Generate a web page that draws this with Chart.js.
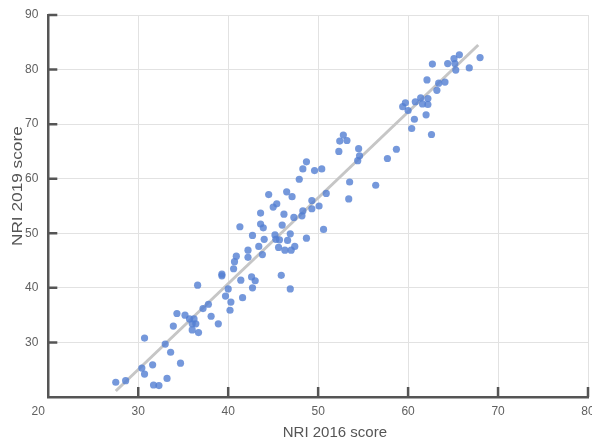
<!DOCTYPE html>
<html>
<head>
<meta charset="utf-8">
<script src="https://cdn.jsdelivr.net/npm/chart.js@4/dist/chart.umd.min.js"></script>
<style>
  html, body { margin: 0; padding: 0; background: #fff; }
  #wrap { width: 592px; height: 441px; position: relative; }
</style>
</head>
<body>
<div id="wrap"><canvas id="c" width="592" height="441"></canvas></div>
<script>
// Country scores: Network Readiness Index 2016 vs 2019
const nri2016 = [
  27.5, 28.6, 30.4, 30.7, 30.7, 31.7, 32.3, 31.6, 33.2, 33.0,
  33.6, 34.7, 33.9, 34.3, 35.2, 35.7, 36.2, 36.0, 36.4, 36.0,
  36.7, 37.2, 37.8, 36.6, 38.1, 38.9, 39.3, 39.3, 40.0, 39.7,
  40.3, 40.2, 41.4, 41.6, 40.6, 40.7, 40.9, 41.3, 42.2, 42.2,
  42.6, 43.0, 42.7, 42.7, 43.4, 43.8, 44.0, 43.6, 43.9, 43.6,
  44.5, 45.0, 45.4, 46.2, 46.0, 46.5, 47.1, 47.3, 48.3, 48.2,
  49.3, 49.3, 50.1, 50.9, 50.6, 48.7, 47.9, 48.3, 48.7, 49.6,
  50.4, 52.3, 45.2, 45.3, 45.7, 45.6, 46.3, 46.6, 46.9, 47.0,
  47.4, 45.9, 46.9, 52.4, 52.8, 53.2, 54.5, 54.6, 54.4, 53.5,
  53.4, 56.4, 57.7, 58.7, 60.4, 60.7, 60.0, 59.4, 59.7, 60.8,
  61.4, 61.6, 62.2, 62.2, 62.0, 62.6, 62.1, 62.7, 63.2, 63.4,
  64.1, 64.4, 65.1, 65.7, 65.2, 65.3, 66.8, 68.0
];
const nri2019 = [
  22.7, 23.0, 25.3, 24.2, 30.8, 22.2, 22.1, 25.9, 23.4, 29.7,
  28.2, 26.2, 33.0, 35.3, 35.0, 34.3, 34.3, 33.4, 33.4, 32.3,
  31.8, 36.2, 37.0, 40.5, 34.8, 33.4, 42.5, 42.2, 39.8, 38.5,
  37.4, 35.9, 41.4, 38.2, 43.5, 44.8, 45.8, 51.2, 46.9, 45.6,
  42.0, 41.3, 40.0, 49.6, 47.6, 46.1, 48.9, 51.7, 51.0, 53.7,
  57.1, 54.8, 55.4, 53.5, 51.5, 57.6, 56.7, 52.9, 54.1, 53.2,
  56.0, 54.5, 55.0, 57.3, 50.7, 49.1, 59.9, 61.8, 63.1, 61.5,
  61.8, 65.0, 49.7, 48.9, 48.8, 47.4, 46.9, 48.7, 49.9, 46.9,
  47.6, 42.3, 39.8, 66.9, 68.0, 67.0, 65.5, 64.2, 63.3, 59.4,
  56.3, 58.8, 63.7, 65.4, 69.2, 70.9, 72.5, 73.2, 73.9, 74.1,
  74.8, 73.7, 74.7, 73.6, 71.7, 68.1, 78.1, 81.0, 76.2, 77.5,
  77.7, 81.1, 82.0, 82.7, 81.1, 79.9, 80.3, 82.2
];

// Fitted trend line end points
const trendX = [27.5, 67.8];
const trendY = [21.1, 84.5];

// Axis ticks
const xTicks = [20, 30, 40, 50, 60, 70, 80];
const yTicks = [20, 30, 40, 50, 60, 70, 80, 90];

const xTitle = 'NRI 2016 score';
const yTitle = 'NRI 2019 score';

const tickFont = { family: '"Liberation Sans Narrow", "Liberation Sans", Arial, sans-serif', size: 12 };
const axisDark = '#555555';

// Short tick marks pointing into the plot, plus the two axis titles
const axisDecor = {
  id: 'axisDecor',
  afterDraw(chart) {
    const { ctx, chartArea: a, scales: { x, y } } = chart;
    ctx.save();
    ctx.strokeStyle = axisDark;
    ctx.lineWidth = 2.5;
    ctx.beginPath();
    yTicks.forEach(v => {
      if (v === y.min) return;
      const py = y.getPixelForValue(v);
      ctx.moveTo(a.left, py);
      ctx.lineTo(a.left + 9, py);
    });
    xTicks.forEach(v => {
      if (v === x.min) return;
      const px = x.getPixelForValue(v);
      ctx.moveTo(px, a.bottom);
      ctx.lineTo(px, a.bottom - 10);
    });
    ctx.stroke();

    ctx.fillStyle = '#555';
    ctx.textAlign = 'center';
    ctx.textBaseline = 'middle';
    ctx.font = '15px "Liberation Sans", Arial, sans-serif';
    ctx.fillText(xTitle, a.left + (a.right - a.left) * 0.531, 433);

    ctx.translate(18, a.top + (a.bottom - a.top) * 0.448);
    ctx.rotate(-Math.PI / 2);
    ctx.scale(1.15, 1);
    ctx.fillText(yTitle, 0, 0);
    ctx.restore();
  }
};

const points = nri2016.map((v, i) => ({ x: v, y: nri2019[i] }));
const trend = trendX.map((v, i) => ({ x: v, y: trendY[i] }));

new Chart(document.getElementById('c'), {
  type: 'scatter',
  data: {
    datasets: [
      {
        type: 'scatter',
        data: points,
        backgroundColor: 'rgba(82, 126, 210, 0.8)',
        borderWidth: 0,
        pointRadius: 3.6,
        order: 1
      },
      {
        type: 'line',
        data: trend,
        borderColor: '#c6c6c6',
        borderWidth: 3,
        pointRadius: 0,
        fill: false,
        order: 2
      }
    ]
  },
  options: {
    responsive: false,
    animation: false,
    events: [],
    layout: { padding: { top: 15, right: 3, left: 0, bottom: 0 } },
    plugins: { legend: { display: false }, tooltip: { enabled: false }, title: { display: false } },
    scales: {
      x: {
        type: 'linear',
        min: 20, max: 80,
        afterBuildTicks: s => { s.ticks = xTicks.map(v => ({ value: v })); },
        afterFit: s => { s.height = 44; s.paddingLeft = 0; s.paddingRight = 0; },
        grid: { color: '#e2e2e2', lineWidth: 1, drawTicks: false },
        border: { display: true, color: axisDark, width: 2.5 },
        ticks: {
          font: tickFont, color: '#606060', padding: 7, maxRotation: 0,
          callback: v => (v === 20 ? '20      ' : String(v))
        }
      },
      y: {
        type: 'linear',
        min: 20, max: 90,
        afterBuildTicks: s => { s.ticks = yTicks.map(v => ({ value: v })); },
        afterFit: s => { s.width = 48.3; s.paddingTop = 0; s.paddingBottom = 0; },
        grid: { color: '#e2e2e2', lineWidth: 1, drawTicks: false },
        border: { display: true, color: axisDark, width: 2.5 },
        ticks: {
          font: tickFont, color: '#606060', padding: 10,
          callback: v => (v === 20 ? '' : String(v))
        }
      }
    }
  },
  plugins: [axisDecor]
});
</script>
</body>
</html>
